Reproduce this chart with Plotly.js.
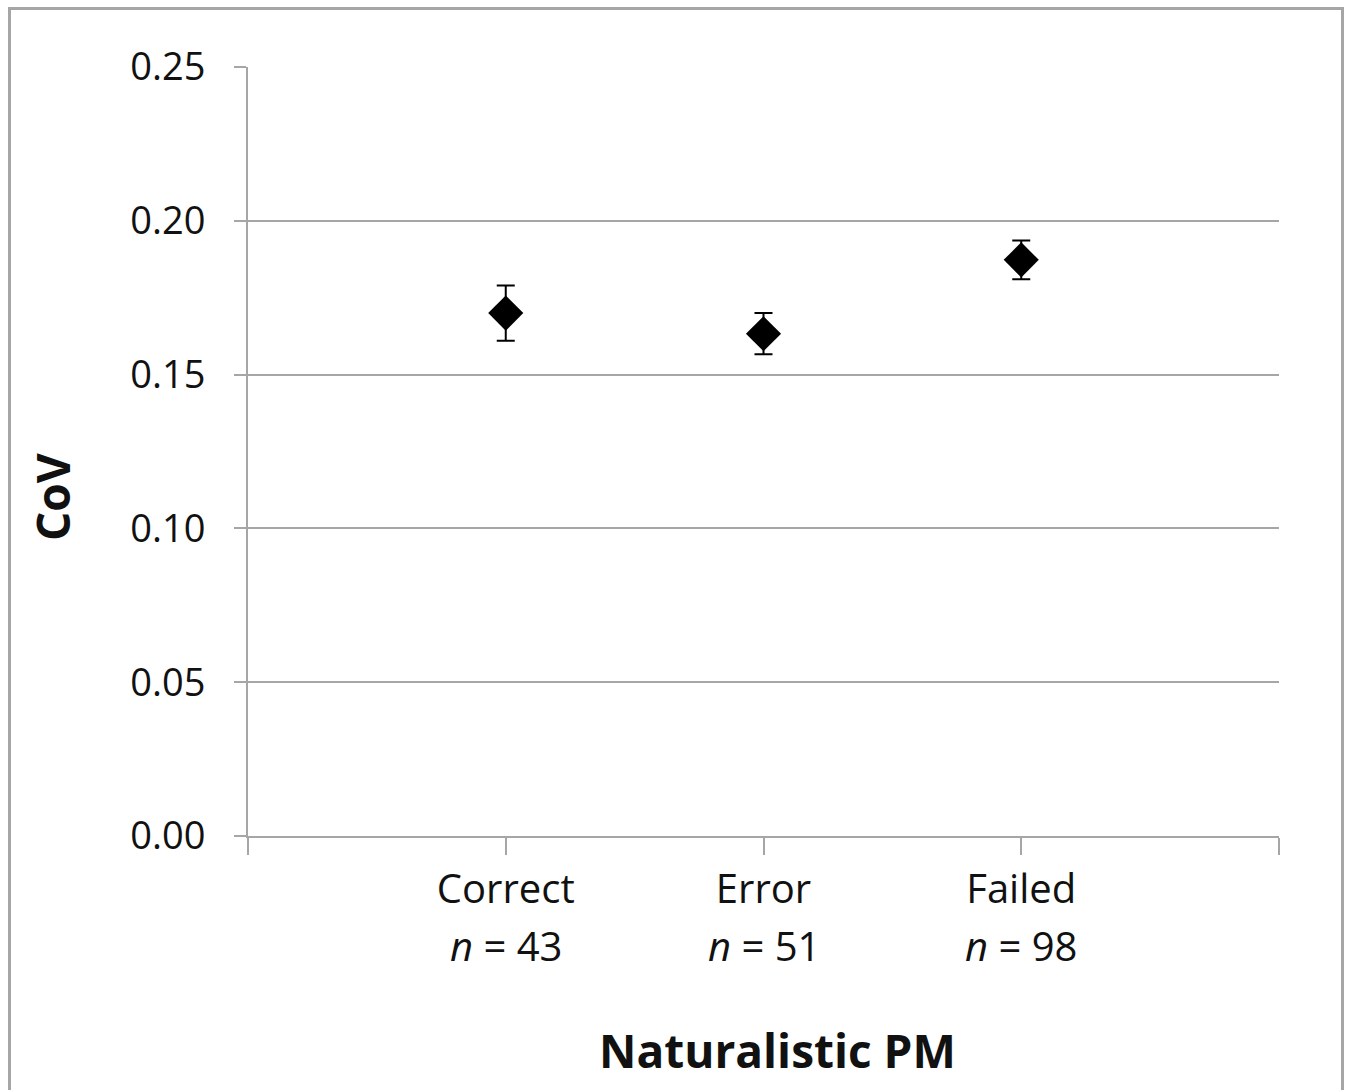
<!DOCTYPE html>
<html>
<head>
<meta charset="utf-8">
<script src="https://cdn.plot.ly/plotly-3.0.1.min.js"></script>
<style>
  html, body { margin: 0; padding: 0; background: #fff; }
  #wrap { position: relative; width: 1355px; height: 1090px; overflow: hidden; }
  #chart { position: absolute; left: 0; top: 0; width: 1355px; height: 1090px; }
  #frame { position: absolute; left: 8px; top: 7px; width: 1336px; height: 1100px;
           border: 3px solid #a6a6a6; pointer-events: none; box-sizing: border-box; }
</style>
</head>
<body>
<div id="wrap">
  <div id="chart"></div>
  <div id="frame"></div>
</div>
<script>
// Data
const categories = ['Correct', 'Error', 'Failed'];
const sampleSizes = [43, 51, 98];
const covValues = [0.170, 0.1633, 0.1873];
const covErrors = [0.0090, 0.0067, 0.0063];
const yTickVals = [0, 0.05, 0.10, 0.15, 0.20, 0.25];
const yTickText = ['0.00', '0.05', '0.10', '0.15', '0.20', '0.25'];
const xTitle = 'Naturalistic PM';
const yTitle = 'CoV';

const positions = categories.map((c, i) => i + 1);

const FONT = 'Open Sans, Noto Sans, sans-serif';
const GRID = '#a6a6a6';
const TXT = '#111';

const trace = {
  type: 'scatter',
  mode: 'markers',
  x: positions,
  y: covValues,
  marker: { symbol: 'diamond', size: 27, color: '#000' },
  error_y: { type: 'data', array: covErrors, visible: true, color: '#000', thickness: 2, width: 9 },
  hoverinfo: 'skip'
};

const annotations = categories.map((c, i) => ({
  x: positions[i], xref: 'x',
  y: -0.142, yref: 'paper',
  text: '<i>n</i> = ' + sampleSizes[i],
  showarrow: false,
  font: { family: FONT, size: 40, color: TXT },
  xanchor: 'center', yanchor: 'middle'
}));

// Axis titles (placed as in the reference, slightly off-centre)
annotations.push({
  x: 0.514, xref: 'paper', y: -0.278, yref: 'paper',
  text: '<b>' + xTitle + '</b>', showarrow: false,
  font: { family: FONT, size: 46, color: TXT },
  xanchor: 'center', yanchor: 'middle'
});
annotations.push({
  x: -0.19, xref: 'paper', y: 0.441, yref: 'paper',
  text: '<b>' + yTitle + '</b>', showarrow: false, textangle: -90,
  font: { family: FONT, size: 46, color: TXT },
  xanchor: 'center', yanchor: 'middle'
});

const layout = {
  width: 1355, height: 1090,
  margin: { l: 248, r: 76, t: 67, b: 254 },
  paper_bgcolor: '#fff', plot_bgcolor: '#fff',
  showlegend: false,
  font: { family: FONT, size: 36, color: TXT },
  xaxis: {
    range: [0, 4],
    tickvals: [0].concat(positions).concat([4]),
    ticktext: [''].concat(categories).concat(['']),
    ticks: 'outside', ticklen: 17, tickwidth: 2, tickcolor: GRID,
    showline: true, linecolor: GRID, linewidth: 2,
    showgrid: false, zeroline: false,
    tickfont: { family: FONT, size: 40, color: TXT },
    ticklabelstandoff: 0,
    automargin: false
  },
  yaxis: {
    range: [0, 0.25],
    tickvals: yTickVals,
    ticktext: yTickText,
    ticks: 'outside', ticklen: 12, tickwidth: 2, tickcolor: GRID,
    showline: true, linecolor: GRID, linewidth: 2,
    showgrid: true, gridcolor: GRID, gridwidth: 2,
    zeroline: false,
    tickfont: { family: FONT, size: 38, color: TXT },
    ticklabelstandoff: 21,
    automargin: false
  },
  annotations: annotations
};

Plotly.newPlot('chart', [trace], layout, { displayModeBar: false, staticPlot: true });
</script>
</body>
</html>
